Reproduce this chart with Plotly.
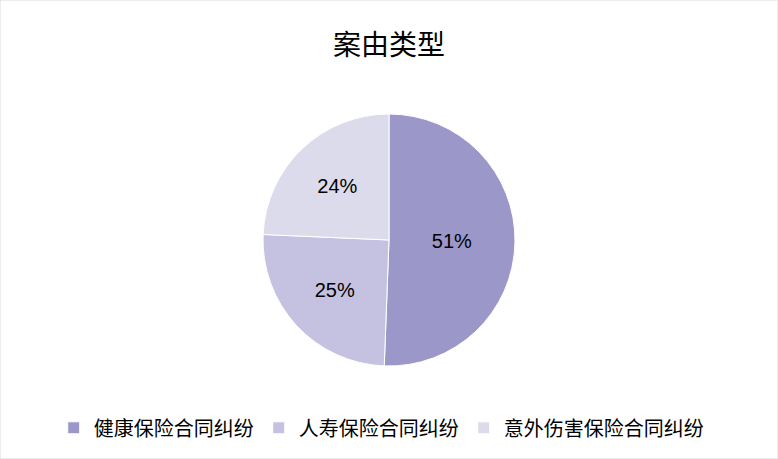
import plotly.graph_objects as go

labels = ['健康保险合同纠纷', '人寿保险合同纠纷', '意外伤害保险合同纠纷']
values = [50.6, 25.1, 24.3]
colors = ['#9c97c9', '#c5c2e1', '#dcdbeb']

fig = go.Figure(go.Pie(
    labels=labels, values=values, sort=False, direction='clockwise', rotation=0,
    marker=dict(colors=colors, line=dict(color='white', width=1)),
    textinfo='percent', textposition='inside', insidetextorientation='horizontal',
    texttemplate='%{percent:.0%}',
    textfont=dict(family='Liberation Sans, Arial', size=20, color='black'),
    domain=dict(x=[0.338, 0.662], y=[0.2026, 0.7516]),
    hoverinfo='label+percent',
))

fig.update_layout(
    width=778, height=459,
    margin=dict(l=0, r=0, t=0, b=0),
    paper_bgcolor='white',
    title=dict(text='案由类型', x=0.5, xanchor='center', y=0.902, yanchor='middle',
               font=dict(family='Noto Sans CJK SC', size=28, color='black')),
    legend=dict(orientation='h', x=0.49, xanchor='center', y=0.068, yanchor='middle',
                font=dict(family='Noto Sans CJK SC', size=20, color='black'),
                itemwidth=30, tracegroupgap=0),
    shapes=[dict(type='rect', xref='paper', yref='paper', x0=0, y0=0, x1=1, y1=1,
                 line=dict(color='#d9d9d9', width=1))],
)

fig.write_html("out.html", config={'displayModeBar': False},
               post_script="document.body.style.margin='0';")
